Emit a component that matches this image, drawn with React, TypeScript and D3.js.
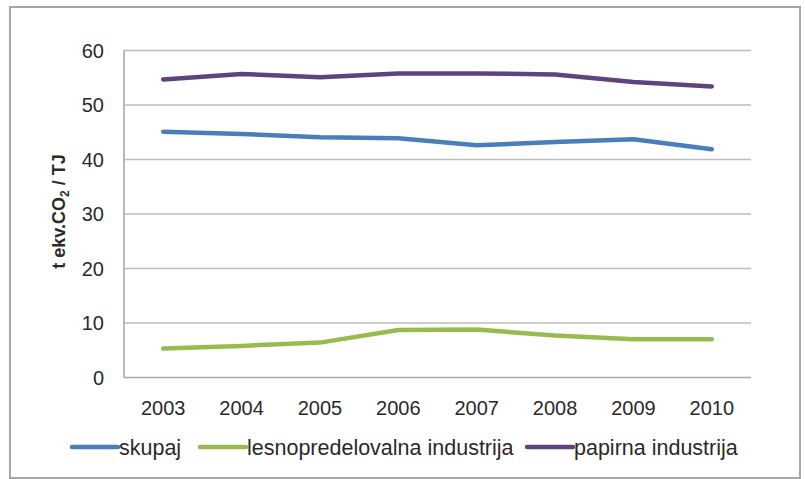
import React from "react";
import * as d3 from "d3";

const years = ["2003", "2004", "2005", "2006", "2007", "2008", "2009", "2010"];
const skupaj = [45.1, 44.7, 44.1, 43.9, 42.6, 43.2, 43.7, 41.9];
const lesnopredelovalna = [5.3, 5.8, 6.4, 8.7, 8.8, 7.7, 7.0, 7.0];
const papirna = [54.7, 55.7, 55.1, 55.8, 55.8, 55.6, 54.2, 53.4];
const yTicks = [0, 10, 20, 30, 40, 50, 60];

const series = [
  { name: "skupaj", values: skupaj, color: "#4a7ebb" },
  { name: "lesnopredelovalna industrija", values: lesnopredelovalna, color: "#98bb4f" },
  { name: "papirna industrija", values: papirna, color: "#5e4381" },
];

const W = 805;
const H = 479;
const plot = { left: 124, right: 751, top: 50.5, bottom: 377.5 };
const font = "'Liberation Sans', Arial, sans-serif";

export default function App() {
  const x = d3
    .scaleBand<string>()
    .domain(years)
    .range([plot.left, plot.right]);
  const y = d3.scaleLinear().domain([0, 60]).range([plot.bottom, plot.top]);

  const line = d3
    .line<number>()
    .x((_, i) => (x(years[i]) as number) + x.bandwidth() / 2)
    .y((d) => y(d));

  const legendItems = [
    { x: 72, w: 46 },
    { x: 200, w: 46 },
    { x: 527, w: 46 },
  ];

  return (
    <svg
      width={W}
      height={H}
      style={{ position: "absolute", left: 0, top: 0, background: "#fff" }}
    >
      <rect x={10} y={7} width={790} height={471} fill="#fff" stroke="#a6a6a6" strokeWidth={2} />

      {/* horizontal gridlines */}
      {yTicks.map((t) => (
        <line
          key={t}
          x1={plot.left}
          x2={plot.right}
          y1={y(t)}
          y2={y(t)}
          stroke={t === 0 ? "#a8a8a8" : "#bdbdbd"}
          strokeWidth={1.6}
        />
      ))}
      <line x1={plot.left} x2={plot.left} y1={plot.top} y2={plot.bottom} stroke="#a8a8a8" strokeWidth={1.6} />

      {/* y tick labels */}
      {yTicks.map((t) => (
        <text
          key={t}
          x={104}
          y={y(t)}
          dy="0.36em"
          textAnchor="end"
          fontFamily={font}
          fontSize={20}
          fill="#2a2a2a"
        >
          {t}
        </text>
      ))}

      {/* x tick labels */}
      {years.map((yr) => (
        <text
          key={yr}
          x={(x(yr) as number) + x.bandwidth() / 2}
          y={415}
          textAnchor="middle"
          fontFamily={font}
          fontSize={20}
          fill="#2a2a2a"
        >
          {yr}
        </text>
      ))}

      {/* y axis title */}
      <text
        transform={`translate(65,${(153 + 270) / 2}) rotate(-90)`}
        textAnchor="middle"
        fontFamily={font}
        fontSize={18}
        fontWeight="bold"
        fill="#2a2a2a"
      >
        t ekv.CO<tspan fontSize={12} dy={4}>2</tspan>
        <tspan dy={-4}> / TJ</tspan>
      </text>

      {/* series lines */}
      {series.map((s) => (
        <path
          key={s.name}
          d={line(s.values) || ""}
          fill="none"
          stroke={s.color}
          strokeWidth={4.5}
          strokeLinejoin="round"
          strokeLinecap="round"
        />
      ))}

      {/* legend */}
      {series.map((s, i) => (
        <g key={s.name}>
          <line
            x1={legendItems[i].x}
            x2={legendItems[i].x + legendItems[i].w}
            y1={447}
            y2={447}
            stroke={s.color}
            strokeWidth={4.5}
            strokeLinecap="round"
          />
          <text
            x={legendItems[i].x + legendItems[i].w + 1}
            y={447}
            dy="0.36em"
            fontFamily={font}
            fontSize={21.5}
            fill="#2a2a2a"
          >
            {s.name}
          </text>
        </g>
      ))}
    </svg>
  );
}
